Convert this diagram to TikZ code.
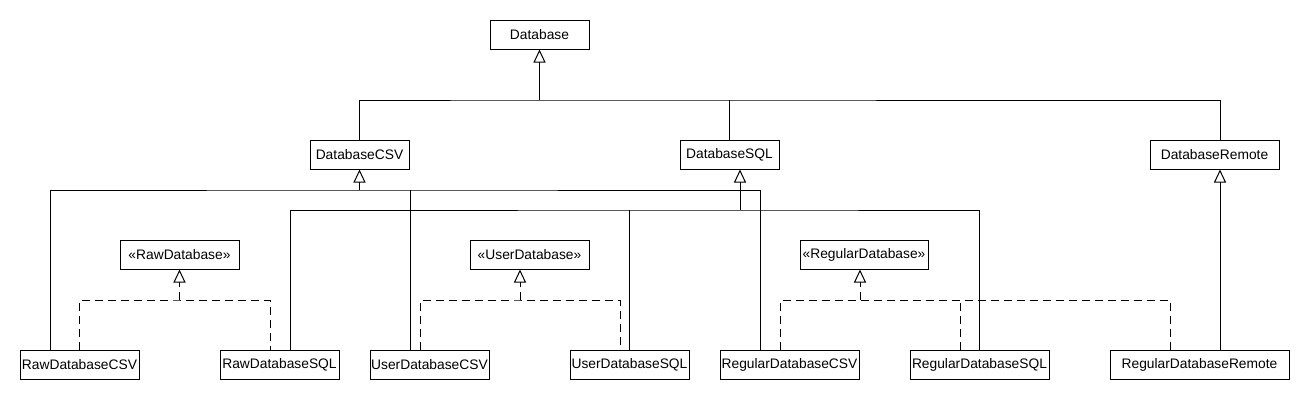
\documentclass[tikz,border=0pt]{standalone}
\usepackage{fontspec}
\setmainfont{Liberation Sans}
\usetikzlibrary{arrows.meta}

\begin{document}
\begin{tikzpicture}[x=1pt,y=-1pt,
    cls/.style={draw,line width=1pt,minimum height=29pt,inner sep=0pt,font=\fontsize{13.8}{16}\selectfont},
    assoc/.style={line width=1pt},
    gen/.style={assoc,-{Triangle[open,length=13pt,width=12pt]}},
    real/.style={line width=1pt,dash pattern=on 8pt off 5pt},
    realize/.style={real,-{Triangle[open,length=13pt,width=12pt]}}]
    \useasboundingbox (0,0) rectangle (1310,400);

    % abstract classes
    \node[cls,minimum width=99pt] (db) at (539.5,34.5) {Database};
    \node[cls,minimum width=99pt] (csv) at (359.5,154.5) {DatabaseCSV};
    \node[cls,minimum width=99pt] (sql) at (729.5,154.5) {DatabaseSQL};
    \node[cls,minimum width=129pt] (remote) at (1214.5,154.5) {DatabaseRemote};

    % interfaces
    \node[cls,minimum width=119pt] (rawif) at (179.5,254.5) {«RawDatabase»};
    \node[cls,minimum width=119pt] (userif) at (529.5,254.5) {«UserDatabase»};
    \node[cls,minimum width=128pt] (regif) at (864,254.5) {«RegularDatabase»};

    % concrete classes
    \node[cls,minimum width=119pt] (rawcsv) at (79.5,364.5) {RawDatabaseCSV};
    \node[cls,minimum width=119pt] (rawsql) at (279.5,364.5) {RawDatabaseSQL};
    \node[cls,minimum width=119pt] (usercsv) at (429.5,364.5) {UserDatabaseCSV};
    \node[cls,minimum width=119pt] (usersql) at (629.5,364.5) {UserDatabaseSQL};
    \node[cls,minimum width=139pt] (regcsv) at (789.5,364.5) {RegularDatabaseCSV};
    \node[cls,minimum width=139pt] (regsql) at (979.5,364.5) {RegularDatabaseSQL};
    \node[cls,minimum width=179pt] (regremote) at (1199.5,364.5) {RegularDatabaseRemote};

    % top level
    \coordinate (dbbus) at (539.5,100);
    \draw[assoc] (csv.north) |- (dbbus) -| ([xshift=5.5pt]remote.north);
    \draw[assoc] (sql.north) -- (sql.north |- dbbus);
    \draw[gen] (dbbus) -- (db.south);

    % csv family
    \coordinate (csvbus) at (359.5,190);
    \draw[assoc] ([xshift=-29.5pt]rawcsv.north) |- (csvbus) -| ([xshift=-29.5pt]regcsv.north);
    \draw[assoc] ([xshift=-19.5pt]usercsv.north) -- ([xshift=-19.5pt]usercsv.north |- csvbus);
    \draw[gen] (csvbus) -- (csv.south);

    % sql family
    \coordinate (sqlbus) at (740,210);
    \draw[assoc] ([xshift=10.5pt]rawsql.north) |- (sqlbus) -| (regsql.north);
    \draw[assoc] (usersql.north) -- (usersql.north |- sqlbus);
    \draw[gen] (sqlbus) -- (sqlbus |- sql.south);

    % remote
    \draw[gen] ([xshift=20.5pt]regremote.north) -- ([xshift=20.5pt]regremote.north |- remote.south);

    % realizations
    \coordinate (rawbus) at (179.5,300);
    \draw[real] (rawcsv.north) |- (rawbus) -| ([xshift=-9.5pt]rawsql.north);
    \draw[realize] (rawbus) -- (rawif.south);

    \coordinate (userbus) at (520,300);
    \draw[real] ([xshift=-9.5pt]usercsv.north) |- (userbus) -| ([xshift=-9.5pt]usersql.north);
    \draw[realize] (userbus) -- (userbus |- userif.south);

    \coordinate (regbus) at (860,300);
    \draw[real] ([xshift=-9.5pt]regcsv.north) |- (regbus) -| ([xshift=-29.5pt]regremote.north);
    \draw[real] ([xshift=-19.5pt]regsql.north) -- ([xshift=-19.5pt]regsql.north |- regbus);
    \draw[realize] (regbus) -- (regbus |- regif.south);
\end{tikzpicture}
\end{document}
